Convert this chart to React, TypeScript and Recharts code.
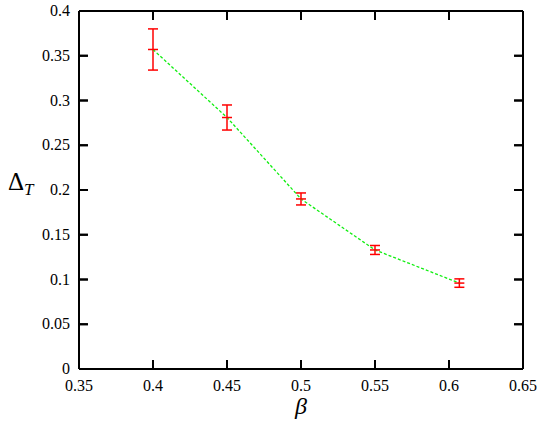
import { ComposedChart, Line, XAxis, YAxis, ErrorBar, ReferenceLine } from 'recharts';

// beta values, Delta_T and its error bars
const betas = [0.4, 0.45, 0.5, 0.55, 0.607];
const deltaT = [0.357, 0.281, 0.19, 0.133, 0.096];
const deltaErr = [0.023, 0.014, 0.0067, 0.005, 0.0047];

const xTicks = [0.35, 0.4, 0.45, 0.5, 0.55, 0.6, 0.65];
const yTicks = [0, 0.05, 0.1, 0.15, 0.2, 0.25, 0.3, 0.35, 0.4];

const X_MIN = 0.35;
const X_MAX = 0.65;
const Y_MIN = 0;
const Y_MAX = 0.4;
// inward tick length (~9px) in data units
const TICK_X = 0.006;
const TICK_Y = 0.01;

const data = betas.map((b, i) => ({ beta: b, delta: deltaT[i], err: deltaErr[i] }));

const FONT = '"Liberation Serif", "DejaVu Serif", serif';
const txt = { fontFamily: FONT };
const FRAME = { stroke: '#000000', strokeWidth: 2 };

const BottomLabel = (props: any) => {
    const { x, y, payload } = props;
    return (
        <text x={x} y={y} textAnchor="middle" style={txt} fontSize={16} fill="#000">
            {payload.value}
        </text>
    );
};

const LeftLabel = (props: any) => {
    const { x, y, payload } = props;
    return (
        <text x={x} y={y + 5} textAnchor="end" style={txt} fontSize={16} fill="#000">
            {payload.value}
        </text>
    );
};

const NoLabel = () => <g />;

const CrossDot = (props: any) => {
    const { cx, cy } = props;
    if (cx == null || cy == null) return null;
    return <line x1={cx - 5} y1={cy} x2={cx + 5} y2={cy} stroke="#ff0000" strokeWidth={1.5} />;
};

export default function App() {
    return (
        <div style={{ position: 'absolute', left: 0, top: 0, background: '#fff' }}>
            <ComposedChart width={545} height={421} data={data} margin={{ top: 0, right: 0, bottom: 0, left: 0 }}>
                <XAxis
                    xAxisId="b"
                    dataKey="beta"
                    type="number"
                    domain={[X_MIN, X_MAX]}
                    ticks={xTicks}
                    interval={0}
                    height={52}
                    tickSize={-9}
                    tickMargin={31}
                    tick={<BottomLabel />}
                    tickLine={FRAME}
                    axisLine={FRAME}
                    label={{
                        content: (p: any) => {
                            const vb = p.viewBox;
                            return (
                                <text x={vb.x + vb.width / 2} y={vb.y + 45} textAnchor="middle" style={txt} fontStyle="italic" fontSize={24} fill="#000">
                                    β
                                </text>
                            );
                        },
                    }}
                />
                <XAxis
                    xAxisId="t"
                    dataKey="beta"
                    orientation="top"
                    type="number"
                    domain={[X_MIN, X_MAX]}
                    ticks={xTicks}
                    interval={0}
                    height={11}
                    tickSize={-9}
                    tick={<NoLabel />}
                    tickLine={FRAME}
                    axisLine={FRAME}
                />
                <YAxis
                    yAxisId="l"
                    type="number"
                    domain={[Y_MIN, Y_MAX]}
                    ticks={yTicks}
                    interval={0}
                    width={79}
                    tickSize={-9}
                    tickMargin={18}
                    tick={<LeftLabel />}
                    tickLine={FRAME}
                    axisLine={FRAME}
                    label={{
                        content: (p: any) => {
                            const vb = p.viewBox;
                            return (
                                <text x={vb.x + 8} y={vb.y + vb.height / 2} style={txt} fontSize={25} fill="#000">
                                    Δ
                                    <tspan fontSize={17} fontStyle="italic" dy={5}>T</tspan>
                                </text>
                            );
                        },
                    }}
                />
                <YAxis
                    yAxisId="r"
                    orientation="right"
                    type="number"
                    domain={[Y_MIN, Y_MAX]}
                    ticks={yTicks}
                    interval={0}
                    width={22}
                    tickSize={-9}
                    tick={<NoLabel />}
                    tickLine={FRAME}
                    axisLine={FRAME}
                />
                {/* invisible copy so the mirrored top/right axes have a series bound */}
                <Line
                    xAxisId="t"
                    yAxisId="r"
                    dataKey="delta"
                    stroke="none"
                    dot={false}
                    activeDot={false}
                    legendType="none"
                    isAnimationActive={false}
                />
                {/* inward tick marks on all four sides */}
                {xTicks.map(t => (
                    <ReferenceLine key={'xb' + t} xAxisId="b" yAxisId="l" segment={[{ x: t, y: Y_MIN }, { x: t, y: Y_MIN + TICK_Y }]} {...FRAME} />
                ))}
                {xTicks.map(t => (
                    <ReferenceLine key={'xt' + t} xAxisId="b" yAxisId="l" segment={[{ x: t, y: Y_MAX }, { x: t, y: Y_MAX - TICK_Y }]} {...FRAME} />
                ))}
                {yTicks.map(v => (
                    <ReferenceLine key={'yl' + v} xAxisId="b" yAxisId="l" segment={[{ x: X_MIN, y: v }, { x: X_MIN + TICK_X, y: v }]} {...FRAME} />
                ))}
                {yTicks.map(v => (
                    <ReferenceLine key={'yr' + v} xAxisId="b" yAxisId="l" segment={[{ x: X_MAX, y: v }, { x: X_MAX - TICK_X, y: v }]} {...FRAME} />
                ))}
                <Line
                    xAxisId="b"
                    yAxisId="l"
                    dataKey="delta"
                    stroke="#11ee11"
                    strokeWidth={1.3}
                    strokeDasharray="3 2"
                    dot={<CrossDot />}
                    activeDot={false}
                    isAnimationActive={false}
                >
                    <ErrorBar dataKey="err" direction="y" width={5} stroke="#ff0000" strokeWidth={1.5} />
                </Line>
            </ComposedChart>
        </div>
    );
}
